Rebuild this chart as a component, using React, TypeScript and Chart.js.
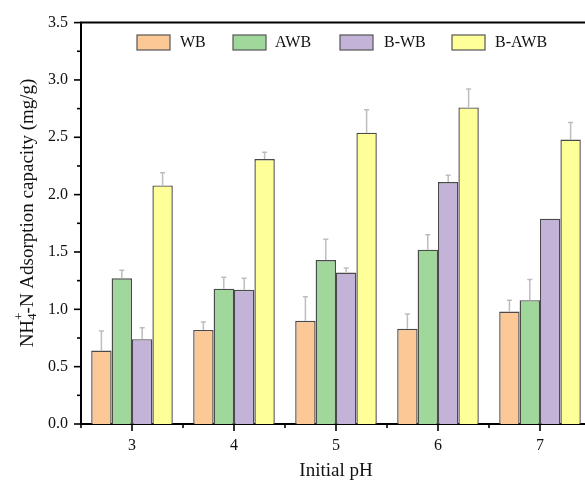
import React, { useEffect, useRef } from "react";
import { Chart, registerables } from "chart.js";

Chart.register(...registerables);

const categories = ["3", "4", "5", "6", "7"];
const seriesNames = ["WB", "AWB", "B-WB", "B-AWB"];
const wbValues = [0.64, 0.82, 0.9, 0.83, 0.98];
const awbValues = [1.27, 1.18, 1.43, 1.52, 1.08];
const bwbValues = [0.74, 1.17, 1.32, 2.11, 1.79];
const bawbValues = [2.08, 2.31, 2.54, 2.76, 2.48];
const wbErr = [0.17, 0.07, 0.21, 0.13, 0.1];
const awbErr = [0.07, 0.1, 0.18, 0.13, 0.18];
const bwbErr = [0.1, 0.1, 0.04, 0.06, 0];
const bawbErr = [0.11, 0.06, 0.2, 0.16, 0.15];
const yTicks = [0, 0.5, 1, 1.5, 2, 2.5, 3, 3.5];

const fills = ["#FCC896", "#A0D89C", "#C3B3D8", "#FFFF99"];
const FONT = "'Liberation Serif', 'Times New Roman', serif";

const errs = [wbErr, awbErr, bwbErr, bawbErr];
const legendPos = [
  { box: 137, text: 180 },
  { box: 233, text: 275 },
  { box: 340, text: 384 },
  { box: 452, text: 495 },
];

const decor = {
  id: "decor",
  afterDatasetsDraw(chart: any) {
    const ctx = chart.ctx;
    const area = chart.chartArea;
    const ys = chart.scales.y;
    const xs = chart.scales.x;
    ctx.save();
    // error bars
    chart.data.datasets.forEach((ds: any, di: number) => {
      const meta = chart.getDatasetMeta(di);
      meta.data.forEach((bar: any, i: number) => {
        const e = errs[di][i];
        if (!e) return;
        const yTop = ys.getPixelForValue(ds.data[i] + e);
        ctx.strokeStyle = "#bdbdbd";
        ctx.lineWidth = 1.5;
        ctx.beginPath();
        ctx.moveTo(bar.x, bar.y);
        ctx.lineTo(bar.x, yTop);
        ctx.moveTo(bar.x - 2.5, yTop);
        ctx.lineTo(bar.x + 2.5, yTop);
        ctx.stroke();
      });
    });
    // frame
    ctx.strokeStyle = "#000";
    ctx.lineWidth = 2;
    ctx.beginPath();
    ctx.moveTo(area.left - 1, area.top);
    ctx.lineTo(area.right + 10, area.top);
    ctx.stroke();
    // y ticks
    ctx.lineWidth = 1.6;
    for (let k = 0; k <= 14; k++) {
      const v = k * 0.25;
      const y = ys.getPixelForValue(v);
      const len = k % 2 === 0 ? 7 : 4;
      ctx.beginPath();
      ctx.moveTo(area.left - len, y);
      ctx.lineTo(area.left, y);
      ctx.stroke();
    }
    // x ticks
    for (let i = 0; i < categories.length; i++) {
      const x = xs.getPixelForValue(i);
      ctx.beginPath();
      ctx.moveTo(x, area.bottom);
      ctx.lineTo(x, area.bottom + 7);
      ctx.stroke();
      const xm = (xs.getPixelForValue(i) + (i + 1 < categories.length ? xs.getPixelForValue(i + 1) : 2 * x - xs.getPixelForValue(i - 1))) / 2;
      ctx.beginPath();
      ctx.moveTo(xm, area.bottom);
      ctx.lineTo(xm, area.bottom + 4);
      ctx.stroke();
    }
    const xl = xs.getPixelForValue(0) - (xs.getPixelForValue(1) - xs.getPixelForValue(0)) / 2;
    ctx.beginPath();
    ctx.moveTo(xl, area.bottom);
    ctx.lineTo(xl, area.bottom + 4);
    ctx.stroke();
    // legend
    ctx.font = `16px ${FONT}`;
    ctx.textBaseline = "middle";
    ctx.textAlign = "left";
    seriesNames.forEach((name, i) => {
      const p = legendPos[i];
      ctx.fillStyle = fills[i];
      ctx.fillRect(p.box, 35, 33, 15);
      ctx.strokeStyle = "#555";
      ctx.lineWidth = 1.2;
      ctx.strokeRect(p.box, 35, 33, 15);
      ctx.fillStyle = "#111";
      ctx.fillText(name, p.text, 43);
    });
    // y title with sub/superscript
    ctx.translate(28, 213);
    ctx.rotate(-Math.PI / 2);
    const big = `19px ${FONT}`;
    const small = `13px ${FONT}`;
    const parts = [
      { t: "NH", f: big, dy: 0 },
      { t: "4", f: small, dy: 5 },
      { t: "-N Adsorption capacity (mg/g)", f: big, dy: 0 },
    ];
    let total = 0;
    parts.forEach((p) => {
      ctx.font = p.f;
      total += ctx.measureText(p.t).width;
    });
    let x = -total / 2;
    ctx.fillStyle = "#111";
    ctx.textBaseline = "middle";
    parts.forEach((p, idx) => {
      ctx.font = p.f;
      ctx.fillText(p.t, x, p.dy);
      if (idx === 1) {
        ctx.fillText("+", x, -8);
      }
      x += ctx.measureText(p.t).width;
    });
    ctx.restore();
  },
};

export default function App() {
  const ref = useRef<HTMLCanvasElement>(null);
  useEffect(() => {
    const mk = (label: string, data: number[], i: number) => ({
      label,
      data,
      backgroundColor: fills[i],
      borderColor: "#4a4a4a",
      borderWidth: 1.4,
      barPercentage: 1,
      categoryPercentage: 0.8,
    });
    const chart = new Chart(ref.current!, {
      type: "bar",
      data: {
        labels: categories,
        datasets: [
          mk(seriesNames[0], wbValues, 0),
          mk(seriesNames[1], awbValues, 1),
          mk(seriesNames[2], bwbValues, 2),
          mk(seriesNames[3], bawbValues, 3),
        ],
      },
      options: {
        responsive: false,
        animation: false,
        layout: { padding: { top: 20, right: 9, left: 0, bottom: 0 } },
        plugins: { legend: { display: false }, tooltip: { enabled: false } },
        scales: {
          x: {
            type: "category",
            offset: true,
            grid: { display: false, drawTicks: false },
            border: { color: "#000", width: 2 },
            ticks: { color: "#111", font: { family: FONT, size: 16 }, padding: 12 },
            title: { display: true, text: "Initial pH", color: "#111", font: { family: FONT, size: 19 }, padding: { top: 4, bottom: 0 } },
            afterFit: (s: any) => { s.height = 58; },
          },
          y: {
            min: 0,
            max: 3.5,
            afterBuildTicks: (s: any) => { s.ticks = yTicks.map((v) => ({ value: v })); },
            ticks: { color: "#111", font: { family: FONT, size: 16 }, padding: 13, callback: (v: any) => Number(v).toFixed(1) },
            grid: { display: false, drawTicks: false },
            border: { color: "#000", width: 2 },
            afterFit: (s: any) => { s.width = 81; },
          },
        },
      },
      plugins: [decor],
    } as any);
    return () => chart.destroy();
  }, []);
  return (
    <div style={{ position: "absolute", left: 0, top: 0, width: 585, height: 481, overflow: "hidden", background: "#fff" }}>
      <canvas ref={ref} width={600} height={482} style={{ width: 600, height: 482, display: "block" }} />
    </div>
  );
}
